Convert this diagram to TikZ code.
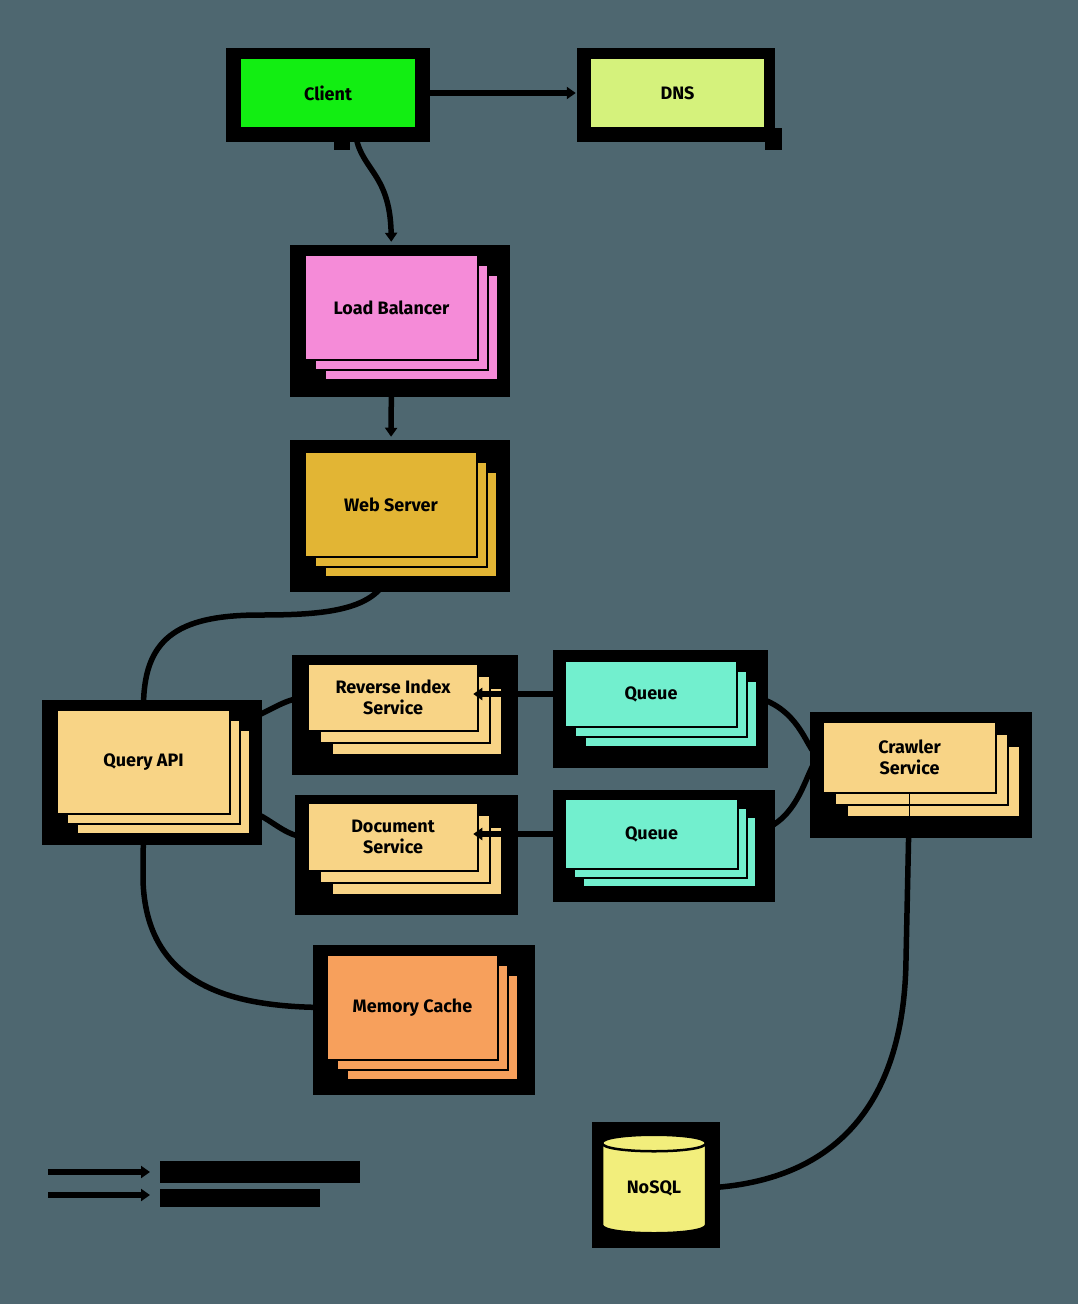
\documentclass[tikz,border=0pt]{standalone}
\usepackage{fontspec}
\setmainfont{Fira Sans}
\usetikzlibrary{arrows.meta}
\pgfdeclarelayer{back}
\pgfsetlayers{back,main}

\definecolor{bgslate}{HTML}{4E6770}
\definecolor{clientc}{HTML}{12EE12}
\definecolor{dnsc}{HTML}{D5F27C}
\definecolor{lbc}{HTML}{F58BD8}
\definecolor{wsc}{HTML}{E2B534}
\definecolor{svcc}{HTML}{F8D486}
\definecolor{queuec}{HTML}{72EFCE}
\definecolor{cachec}{HTML}{F7A05C}
\definecolor{dbc}{HTML}{F2EE7C}

% stacked card: name, x1, y1, x2, y2, layer offset, fill colour, label
\newcommand\cardstack[8]{%
  \foreach \k in {2,1}{%
    \filldraw[layerbox, fill=#7] ({#2+\k*#6},{#3+\k*#6}) rectangle ({#4+\k*#6},{#5+\k*#6});
  }
  \node[face, fill=#7, minimum width={(#4-#2)*1pt}, minimum height={(#5-#3)*1pt}]
    (#1) at ({(#2+#4)/2},{(#3+#5)/2}) {#8};
}

\begin{document}
\begin{tikzpicture}[x=1pt,y=-1pt,
  face/.style={draw=black, line width=2.5pt, inner sep=0pt, align=center,
    font=\bfseries\fontsize{18}{21}\selectfont},
  layerbox/.style={draw=black, line width=2.5pt},
  halo/.style={fill=black},
  conn/.style={draw=black, line width=5.5pt},
  tip/.style={-{Triangle[length=9pt,width=12pt]}}]

\begin{pgfonlayer}{back}
  \fill[bgslate] (0,0) rectangle (1078,1304);
\end{pgfonlayer}
\useasboundingbox (0,0) rectangle (1078,1304);

% drop shadows behind the cards
\fill[halo] (226,48) rectangle (430,142);
\fill[halo] (334,140) rectangle (350,150);
\fill[halo] (577,48) rectangle (775,142);
\fill[halo] (765,128) rectangle (782,150);
\fill[halo] (290,245) rectangle (510,397);
\fill[halo] (290,440) rectangle (510,592);
\fill[halo] (42,700) rectangle (262,845);
\fill[halo] (292,655) rectangle (518,775);
\fill[halo] (295,795) rectangle (518,915);
\fill[halo] (553,650) rectangle (768,768);
\fill[halo] (553,790) rectangle (775,902);
\fill[halo] (810,712) rectangle (1032,838);
\fill[halo] (313,945) rectangle (535,1095);
\fill[halo] (592,1122) rectangle (720,1248);

% cards
\cardstack{client}{240}{58}{416}{128}{0}{clientc}{Client}
\cardstack{dns}{590}{58}{765}{128}{0}{dnsc}{DNS}
\cardstack{lb}{305}{255}{478}{360}{10}{lbc}{Load Balancer}
\cardstack{ws}{305}{452}{477}{557}{10}{wsc}{Web Server}
\cardstack{qapi}{57}{710}{230}{814}{10}{svcc}{Query API}
\cardstack{ris}{308}{664}{478}{731}{12}{svcc}{Reverse Index\\Service}
\cardstack{doc}{308}{803}{478}{871}{12}{svcc}{Document\\Service}
\cardstack{q1}{565}{661}{737}{727}{10}{queuec}{Queue}
\cardstack{q2}{565}{799}{738}{869}{9}{queuec}{Queue}
\cardstack{crawler}{823}{722}{996}{793}{12}{svcc}{Crawler\\Service}
\cardstack{mc}{327}{955}{498}{1060}{10}{cachec}{Memory Cache}

% database cylinder
\filldraw[fill=dbc, draw=black, line width=2.5pt]
  (602,1143) -- (602,1225) .. controls (602,1236) and (706,1236) .. (706,1225)
  -- (706,1143) .. controls (706,1132) and (602,1132) .. (602,1143) -- cycle;
\draw[black, line width=2.5pt] (602,1143) .. controls (602,1154) and (706,1154) .. (706,1143);
\node[inner sep=0pt, minimum width=104pt, minimum height=97pt,
  font=\bfseries\fontsize{18}{21}\selectfont] (nosql) at (654,1188) {NoSQL};

% connectors running behind the cards
\begin{pgfonlayer}{back}
  \draw[conn,tip,shorten >=13pt] (client.east) -- (dns.west);
  \draw[conn,tip,shorten >=12pt] ([xshift=27pt]client.south)
    .. controls (358,170) and (390,170) .. (lb.north);
  \draw[conn,tip,shorten >=14pt] (lb.south) -- (ws.north);
  \draw[conn] (ws.south) .. controls (390,610) and (330,615) .. (260,615)
    .. controls (175,615) and (143,640) .. (qapi.north);
  \draw[conn] ([yshift=-15pt]qapi.north east) .. controls (265,718) and (280,698) .. (ris.west);
  \draw[conn] ([yshift=8pt]qapi.south east) .. controls (265,808) and (280,837) .. (doc.west);
  \draw[conn] (qapi.south) -- (143,880) .. controls (146,985) and (230,1007) .. (mc.west);
  \draw[conn] (crawler.west) .. controls (805,757) and (805,700) .. (q1.east);
  \draw[conn] (crawler.west) .. controls (805,757) and (805,834) .. (q2.east);
  \draw[conn] (crawler.south) -- (906,960) .. controls (904,1110) and (830,1182) .. (nosql.east);
\end{pgfonlayer}

% connectors drawn over the card layers
\draw[conn,tip,shorten >=-6pt] (q1.west) -- (q1.west -| ris.east);
\draw[conn,tip,shorten >=-6pt] (q2.west) -- (q2.west -| doc.east);
\draw[black, line width=1.5pt] (crawler.south) -- ++(0,25);

% legend
\coordinate (lgA1) at (48,1172);
\coordinate (lgB1) at (150,1172);
\coordinate (lgA2) at (48,1195);
\coordinate (lgB2) at (150,1195);
\draw[conn,tip] (lgA1) -- (lgB1);
\draw[conn,tip] (lgA2) -- (lgB2);
\fill[black] (160,1161) rectangle (360,1183);
\fill[black] (160,1189) rectangle (320,1207);
\end{tikzpicture}
\end{document}
